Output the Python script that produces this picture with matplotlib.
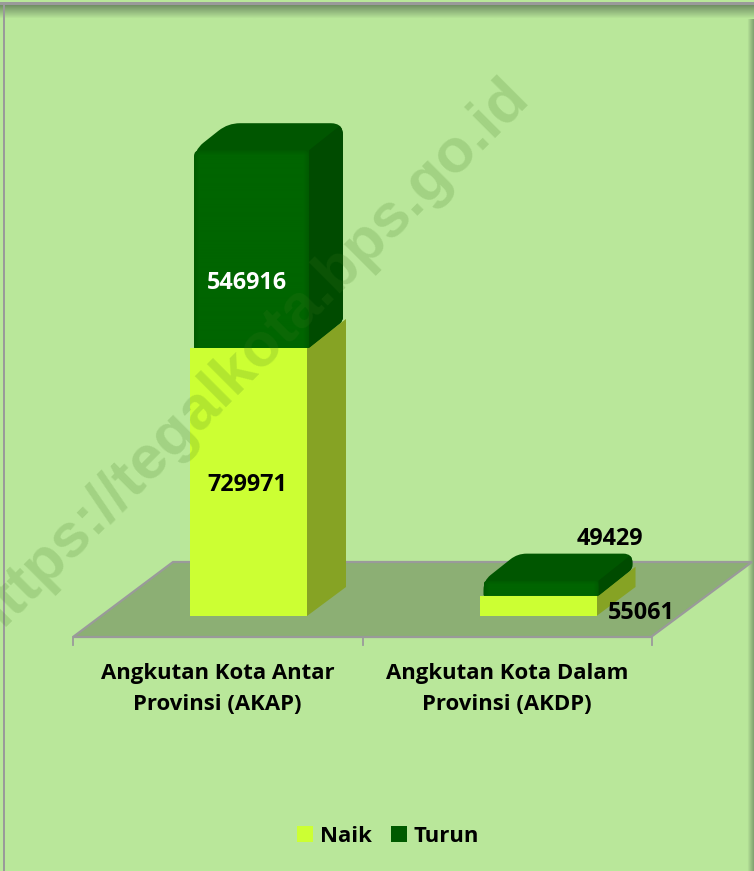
import numpy as np
import matplotlib
matplotlib.use("Agg")
import matplotlib.pyplot as plt
from matplotlib.colors import to_rgb
from matplotlib.patches import Polygon, PathPatch, Patch, Rectangle
from matplotlib.path import Path

categories = ["Angkutan Kota Antar\nProvinsi (AKAP)", "Angkutan Kota Dalam\nProvinsi (AKDP)"]
naik = [729971, 55061]
turun = [546916, 49429]
series_names = ["Naik", "Turun"]

W, H = 754, 871
BG = "#B9E79A"
FONT = ["Open Sans", "DejaVu Sans"]
FS = 15.9
FS_NUM = 16.8
PX_X = 289.5            # pixels per category
PX_VAL = 268 / 729971   # pixels per passenger
X0, Y0 = 248.5, 616     # pixel of category 0 / value 0
sx, sy = 1 / PX_X, 1 / PX_VAL

fig = plt.figure(figsize=(W / 100, H / 100), dpi=100, facecolor=BG)
ax = fig.add_axes([0, 0, 1, 1])
LIMS = ((-X0 * sx, (W - X0) * sx), (-(H - Y0) * sy, Y0 * sy))

DX, DY = 39 * sx, 29 * sy      # depth of the 3-D look
HALF = 58.5 * sx               # half bar width
INSET = 4 * sx                 # upper stack is a bit narrower


def rounded(points, r):
    """Closed path with corners cut by r pixels, points in data coordinates."""
    pts = np.array(points, float) * [PX_X, PX_VAL]
    n = len(pts)
    verts, codes = [], []
    for i in range(n):
        p, a, b = pts[i], pts[i - 1], pts[(i + 1) % n]
        ra = r[i] if np.ndim(r) else r
        ua = (a - p) / np.linalg.norm(a - p)
        ub = (b - p) / np.linalg.norm(b - p)
        start, end = p + ua * ra, p + ub * ra
        verts += [start, p, end]
        codes += [Path.MOVETO if i == 0 else Path.LINETO, Path.CURVE3, Path.CURVE3]
    verts.append(verts[0])
    codes.append(Path.CLOSEPOLY)
    return Path(np.array(verts) * [sx, sy], codes)


def px(x, y):
    return (x - X0) * sx, (Y0 - y) * sy


def shade(c_edge, c_mid, h, w, band):
    """Face colour image: c_edge near the top/left/right rim fading into c_mid."""
    yy = np.clip(np.arange(h) / band, 0, 1)[:, None]
    xx = np.clip(np.minimum(np.arange(w), w - 1 - np.arange(w)) / band, 0, 1)[None, :]
    t = (yy * xx)[:, :, None]
    return np.array(to_rgb(c_edge)) * (1 - t) + np.array(to_rgb(c_mid)) * t


# frame: top shadow, right shadow and gray border
top_rgb = np.array(to_rgb("#6C8A60"))
bg_rgb = np.array(to_rgb(BG))
g = np.linspace(0, 1, 14)[:, None, None]
x1, y1 = px(0, 19)
x2, y2 = px(W, 5)
ax.imshow(top_rgb * (1 - g) + bg_rgb * g, extent=[x1, x2, y1, y2], aspect="auto", zorder=0.5)
g = np.linspace(1, 0, 7)[None, :, None]
x1, y1 = px(W - 7, H)
x2, y2 = px(W, 5)
ax.imshow(np.array(to_rgb("#82A573")) * (1 - g) + bg_rgb * g, extent=[x1, x2, y1, y2], aspect="auto", zorder=0.4)
ax.add_patch(Rectangle(px(0, 5), W * sx, 3 * sy, fc="#9A9A9A", ec="none", zorder=1))
ax.add_patch(Rectangle(px(3, H), 2.2 * sx, (H - 3) * sy, fc="#9A9A9A", ec="none", zorder=1))

# floor
fl, fy = px(73, 637)
fw = 578 * sx
floor = [(fl, fy), (fl + fw, fy), (fl + fw + 101 * sx, fy + 75 * sy), (fl + 100 * sx, fy + 75 * sy)]
ax.add_patch(Polygon(floor, closed=True, fc="#8CAF74", ec="#9A9A9A", lw=1.6, zorder=2))
for tick in range(3):
    tx = fl + tick * PX_X * sx
    ax.plot([tx, tx], [fy, fy - 8 * sy], color="#9A9A9A", lw=1.3, zorder=2)

# stacked pseudo-3D bars
for i, (lo, up) in enumerate(zip(naik, turun)):
    l, r = i - HALF, i + HALF
    z = 3 + 6 * i
    # lower stack side
    ax.add_patch(Polygon([(r, 0), (r + DX, DY), (r + DX, lo + DY), (r, lo)], fc="#86A324", ec="none", zorder=z))
    # upper stack: rounded silhouette, then side and front faces clipped to it
    li, ri = l + INSET, r + 0.5 * INSET
    top = lo + up - 3 * sy
    dxu, dyu = 34 * sx, 27 * sy
    rad = 12 if up > 100000 else 9
    outline = [(li, lo), (ri, lo), (ri + dxu, lo + dyu), (ri + dxu, top + dyu), (li + dxu, top + dyu), (li, top)]
    shape = PathPatch(rounded(outline, [1, 1, 4, rad, rad, rad]), fc="#005600", ec="none", zorder=z + 1)
    ax.add_patch(shape)
    side = Polygon([(ri, lo), (ri + dxu, lo + dyu), (ri + dxu, top + dyu), (ri, top)],
                   fc="#004B00", ec="none", zorder=z + 1.2)
    ax.add_patch(side)
    side.set_clip_path(shape)
    front = PathPatch(rounded([(li, lo), (ri, lo), (ri, top), (li, top)], [1, 1, rad / 2, rad / 2]),
                      fc="none", ec="none", zorder=z + 2)
    ax.add_patch(front)
    n_h = max(int(up * PX_VAL), 2)
    im = ax.imshow(shade("#005A00", "#006500", n_h, int(ri * PX_X - li * PX_X), 5),
                   extent=[li, ri, lo, top], aspect="auto", zorder=z + 2, origin="upper")
    im.set_clip_path(front)
    # lower front
    ax.bar(i, lo, width=2 * HALF, color="#CCFF33", zorder=z + 3)

ax.set_xlim(*LIMS[0])
ax.set_ylim(*LIMS[1])
ax.axis("off")

# data labels
TXT = dict(ha="center", va="center", fontfamily=FONT, fontweight="bold", zorder=30)
ax.text(-0.005, naik[0] / 2 - 8500, f"{naik[0]}", color="black", fontsize=FS_NUM, **TXT)
ax.text(-0.005, naik[0] + turun[0] / 2 - 96500, f"{turun[0]}", color="white", fontsize=FS_NUM, **TXT)
ax.text(1 + 103 * sx, 3 * sy, f"{naik[1]}", color="black", fontsize=FS_NUM, **TXT)
ax.text(1 + 72 * sx, 77 * sy, f"{turun[1]}", color="black", fontsize=FS_NUM, **TXT)

# category labels
for i, c in enumerate(categories):
    ax.text(i - 31 * sx, -73 * sy, c, linespacing=1.62, color="black", fontsize=FS, **TXT)

# watermark
wx, wy = px(248, 359)
ax.text(wx, wy, "https://tegalkota.bps.go.id", rotation=45, rotation_mode="anchor", ha="center", va="center",
        fontfamily="Liberation Sans", fontweight="bold", fontsize=44.5, color="#3F7A20", alpha=0.19, zorder=20)

# legend
handles = [Patch(fc="#CCFF33", ec="none"), Patch(fc="#005A00", ec="none")]
ax.legend(handles, series_names, loc="center", bbox_to_anchor=(388 / W, 35 / H), ncol=2, frameon=False,
          prop={"family": FONT, "weight": "bold", "size": FS}, handlelength=0.72, handleheight=0.72,
          handletextpad=0.3, columnspacing=0.85)

fig.savefig("out.png", dpi=100, facecolor=BG)
